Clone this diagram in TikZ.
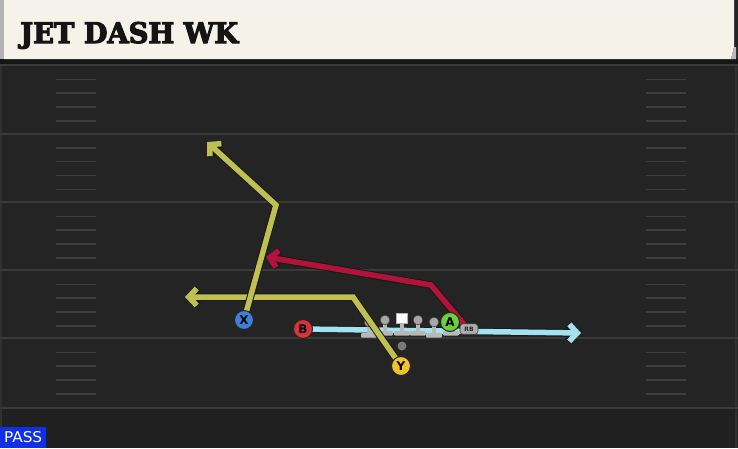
\documentclass[tikz,border=0pt]{standalone}
\usepackage{fontspec}
\setmainfont{DejaVu Sans}
\newfontfamily\titlefont[BoldFeatures={FakeBold=4}]{DejaVu Serif}
\newfontfamily\condfont{DejaVu Sans Condensed}
\usetikzlibrary{arrows.meta}
\definecolor{fieldbg}{HTML}{242424}
\definecolor{yardcol}{HTML}{3A3A3A}
\definecolor{hashcol}{HTML}{3E3E3E}
\definecolor{cream}{HTML}{F5F2EA}
\definecolor{shadowband}{HTML}{161616}
\definecolor{xblue}{HTML}{3B7FD8}
\definecolor{bred}{HTML}{D9323A}
\definecolor{yyellow}{HTML}{F2C12E}
\definecolor{agreen}{HTML}{6AD13A}
\definecolor{olive}{HTML}{BFBF52}
\definecolor{crimson}{HTML}{B3123A}
\definecolor{cyanroute}{HTML}{A4E2F0}
\definecolor{linegray}{HTML}{B8B8B8}
\definecolor{headgray}{HTML}{A6A6A6}
\definecolor{qbgray}{HTML}{7A7A7A}
\definecolor{passblue}{HTML}{1030E8}
\pgfdeclarelayer{field}
\pgfdeclarelayer{routes}
\pgfsetlayers{field,routes,main}
\tikzset{
  yardline/.style={draw=yardcol, line width=2pt},
  hashline/.style={draw=hashcol, line width=1.6pt},
  player/.style={circle, draw=black!85, line width=1pt, minimum size=19pt, inner sep=0pt,
    font=\bfseries\fontsize{12}{12}\selectfont, text=black},
  routeout/.style={draw=black!90, line width=7.5pt, line join=miter,
    -{Straight Barb[length=8pt,width=17pt]}},
  routein/.style={line width=5.5pt, line join=miter,
    -{Straight Barb[length=8pt,width=17pt]}},
  rbbox/.style={rounded corners=3pt, fill=gray!65, draw=black!75, line width=0.6pt,
    minimum width=18pt, minimum height=10.5pt, inner sep=0pt,
    font=\bfseries\fontsize{6}{6}\selectfont, text=black!85},
  lineman/.pic={
    \fill[linegray] (-2,0) rectangle (2,12);
    \fill[linegray, rounded corners=1pt] (-8,11) rectangle (8,15.5);
    \fill[headgray, draw=gray!50!black, line width=0.5pt] (0,0) circle (4.8);
  },
  centerman/.pic={
    \fill[linegray] (-2,0) rectangle (2,14);
    \fill[linegray, rounded corners=1pt] (-8,13) rectangle (8,17.5);
    \fill[white, draw=gray!60, line width=0.5pt] (-5.5,-4.5) rectangle (5.5,5);
  }
}
\begin{document}
\begin{tikzpicture}[x=1pt,y=-1pt]
\useasboundingbox (0,0) rectangle (738,448);
\begin{pgfonlayer}{field}
  \fill[fieldbg] (0,0) rectangle (738,448);
  \fill[fieldbg!88!black] (0,409) rectangle (738,448);
  \draw[yardcol!55!fieldbg, line width=2pt] (1,60) -- (1,448);
  \draw[yardcol!55!fieldbg, line width=2pt] (735.5,60) -- (735.5,448);
  \foreach \yy in {65,133.5,202,270,338,408}
    \draw[yardline] (0,\yy) -- (738,\yy);
  \foreach \yy in {65,133.5,202,270,338}
    \foreach \off in {14.5,28,42,56}{
      \draw[hashline] (56,\yy+\off) -- (96,\yy+\off);
      \draw[hashline] (646,\yy+\off) -- (686,\yy+\off);
    }
  % title banner
  \fill[shadowband] (0,58) rectangle (738,64);
  \fill[gray!60] (0,0) rectangle (5,59);
  \fill[cream] (4,0) -- (734,0) -- (734,47) -- (731,59) -- (4,59) -- cycle;
  \fill[gray!55] (731,59) -- (734,47) -- (736,47) -- (736,59) -- cycle;
  \draw[white!90!gray, line width=0.8pt] (4,0.5) -- (734,0.5);
\end{pgfonlayer}

\node[anchor=base west, inner sep=0pt, text=black!92] (title) at (20,43)
  {\resizebox{218pt}{21pt}{\titlefont\bfseries JET DASH WK}};

\node[fill=passblue, anchor=south west, minimum width=46pt, minimum height=21pt, inner sep=0pt] (pass) at (0,448) {};
\node[text=white, inner sep=0pt] (passtext) at (pass.center) {\resizebox{38pt}{11pt}{\condfont PASS}};

% coordinates of route breaks and ends
\coordinate (xbend) at (276,205);
\coordinate (xend) at (207,142);
\coordinate (ybend) at (353,297);
\coordinate (yend) at (185,297);
\coordinate (rbend) at (431,285);
\coordinate (rend) at (266,257);
\coordinate (bend) at (581,333);

% cyan motion (under linemen)
\begin{pgfonlayer}{routes}
  \draw[routeout] (303,329) -- (bend);
  \draw[routein, draw=cyanroute] (303,329) -- (bend);
\end{pgfonlayer}

% offensive line
\pic at (369,322) {lineman};
\pic at (385,320) {lineman};
\pic at (402,318) {centerman};
\pic at (418,320) {lineman};
\pic at (434,322) {lineman};
\pic at (451,320) {lineman};

\node[circle, fill=qbgray, minimum size=9pt, inner sep=0pt] (QB) at (402,346) {};

% routes over the line
\draw[routeout] (401,366) -- (ybend) -- (yend);
\draw[routein, draw=olive] (401,366) -- (ybend) -- (yend);
\draw[routeout] (244,320) -- (xbend) -- (xend);
\draw[routein, draw=olive] (244,320) -- (xbend) -- (xend);
\draw[routeout, line width=7.5pt] (467,328) -- (rbend) -- (rend);
\draw[routein, draw=crimson, line width=5.5pt] (467,328) -- (rbend) -- (rend);

% players
\node[player, fill=xblue] (X) at (244,320) {X};
\node[player, fill=bred] (B) at (303,329) {B};
\node[player, fill=yyellow] (Y) at (401,366) {Y};
\node[player, fill=agreen] (A) at (450,322) {A};
\node[rbbox] (RB) at (469,329) {RB};
\end{tikzpicture}
\end{document}
